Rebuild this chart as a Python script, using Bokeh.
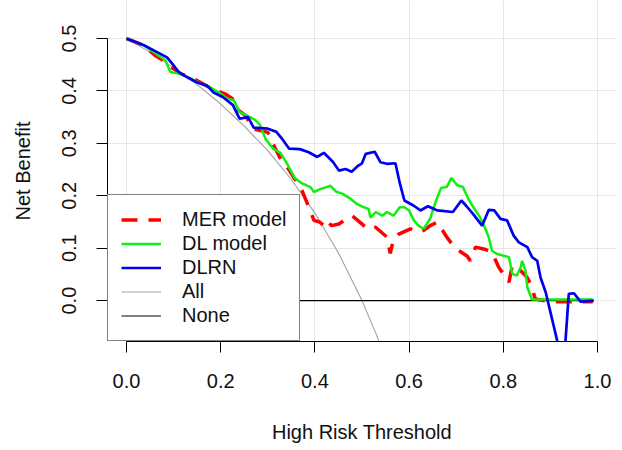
from bokeh.plotting import figure
from bokeh.models import Range1d, FixedTicker, Legend, LegendItem, PrintfTickFormatter
from bokeh.embed import file_html
from bokeh.resources import INLINE

# ---------------- data ----------------
x_ticks = [0.0, 0.2, 0.4, 0.6, 0.8, 1.0]
y_ticks = [0.0, 0.1, 0.2, 0.3, 0.4, 0.5]

mer_t = [0.000, 0.037, 0.060, 0.080, 0.095, 0.115, 0.143, 0.165, 0.182, 0.210,
         0.225, 0.238, 0.253, 0.267, 0.300, 0.316, 0.331, 0.345, 0.355, 0.370,
         0.384, 0.398, 0.410, 0.419, 0.426, 0.435, 0.451, 0.465, 0.479, 0.504,
         0.515, 0.529, 0.553, 0.560, 0.567, 0.578, 0.603, 0.620, 0.631, 0.645,
         0.660, 0.680, 0.699, 0.723, 0.730, 0.741, 0.760, 0.776, 0.790, 0.812,
         0.819, 0.837, 0.850, 0.858, 0.868, 0.900, 0.990]
mer_nb = [0.500, 0.487, 0.468, 0.457, 0.445, 0.433, 0.423, 0.412, 0.404, 0.394,
          0.385, 0.363, 0.353, 0.328, 0.321, 0.290, 0.264, 0.250, 0.235, 0.216,
          0.185, 0.153, 0.150, 0.143, 0.153, 0.143, 0.146, 0.155, 0.162, 0.143,
          0.135, 0.140, 0.121, 0.090, 0.118, 0.127, 0.137, 0.130, 0.134, 0.143,
          0.150, 0.121, 0.099, 0.085, 0.076, 0.102, 0.098, 0.092, 0.064, 0.035,
          0.067, 0.057, 0.045, 0.032, 0.003, -0.002, -0.002]

dl_t = [0.000, 0.037, 0.058, 0.083, 0.093, 0.111, 0.132, 0.157, 0.178, 0.196,
        0.214, 0.228, 0.240, 0.256, 0.274, 0.283, 0.295, 0.311, 0.327, 0.341,
        0.357, 0.372, 0.391, 0.398, 0.412, 0.423, 0.433, 0.445, 0.458, 0.476,
        0.490, 0.504, 0.514, 0.518, 0.529, 0.543, 0.553, 0.567, 0.580, 0.590,
        0.600, 0.610, 0.620, 0.631, 0.645, 0.656, 0.668, 0.680, 0.690, 0.702,
        0.714, 0.727, 0.741, 0.750, 0.762, 0.769, 0.776, 0.787, 0.812, 0.819,
        0.829, 0.837, 0.840, 0.847, 0.851, 0.861, 0.990]
dl_nb = [0.500, 0.487, 0.474, 0.458, 0.436, 0.433, 0.426, 0.414, 0.407, 0.397,
         0.385, 0.382, 0.360, 0.353, 0.344, 0.336, 0.309, 0.290, 0.282, 0.261,
         0.234, 0.224, 0.216, 0.207, 0.213, 0.216, 0.219, 0.208, 0.204, 0.194,
         0.184, 0.178, 0.175, 0.158, 0.169, 0.162, 0.169, 0.162, 0.178, 0.178,
         0.172, 0.153, 0.143, 0.137, 0.157, 0.188, 0.215, 0.217, 0.234, 0.220,
         0.217, 0.192, 0.172, 0.160, 0.137, 0.121, 0.095, 0.089, 0.083, 0.051,
         0.048, 0.064, 0.076, 0.057, 0.025, 0.002, 0.002]

dlrn_t = [0.000, 0.037, 0.065, 0.086, 0.097, 0.111, 0.129, 0.150, 0.171, 0.185,
          0.205, 0.226, 0.240, 0.258, 0.270, 0.300, 0.318, 0.331, 0.345, 0.368,
          0.387, 0.405, 0.419, 0.438, 0.451, 0.465, 0.478, 0.490, 0.500, 0.508,
          0.527, 0.539, 0.553, 0.571, 0.580, 0.590, 0.610, 0.624, 0.640, 0.660,
          0.693, 0.711, 0.722, 0.736, 0.755, 0.769, 0.781, 0.794, 0.808, 0.822,
          0.833, 0.851, 0.861, 0.872, 0.879, 0.890, 0.928, 0.939, 0.950, 0.964,
          0.992]
dlrn_nb = [0.500, 0.487, 0.474, 0.464, 0.452, 0.436, 0.426, 0.416, 0.410, 0.397,
           0.388, 0.373, 0.347, 0.350, 0.330, 0.328, 0.322, 0.308, 0.290, 0.289,
           0.283, 0.274, 0.282, 0.265, 0.248, 0.251, 0.246, 0.256, 0.262, 0.280,
           0.284, 0.264, 0.261, 0.262, 0.225, 0.191, 0.181, 0.172, 0.180, 0.172,
           0.169, 0.191, 0.180, 0.165, 0.143, 0.173, 0.172, 0.156, 0.153, 0.124,
           0.111, 0.102, 0.083, 0.076, 0.044, 0.016, -0.128, 0.013, 0.014, -0.002,
           0.000]

all_t = [0.00, 0.05, 0.10, 0.15, 0.20, 0.25, 0.30, 0.35, 0.40, 0.45, 0.50, 0.53, 0.55]
all_nb = [0.500, 0.474, 0.444, 0.412, 0.375, 0.333, 0.286, 0.231, 0.167, 0.091, 0.000, -0.064, -0.111]

none_t = [0.00, 0.99]
none_nb = [0.0, 0.0]

# ---------------- figure ----------------
FONT = "Liberation Sans"

p = figure(frame_width=509, frame_height=341,
           min_border_left=107, min_border_right=0, min_border_top=0, min_border_bottom=105,
           x_range=Range1d(-0.0403, 1.0403), y_range=Range1d(-0.078, 0.5725),
           output_backend="svg", toolbar_location=None)
p.outline_line_color = None
p.background_fill_color = "white"

r_all = p.line(all_t, all_nb, line_color="#A0A0A0", line_width=1.1)
r_none = p.line(none_t, none_nb, line_color="black", line_width=1.2)
r_mer = p.line(mer_t, mer_nb, line_color="#FF0000", line_width=3.5, line_dash="16 11")
r_dl = p.line(dl_t, dl_nb, line_color="#11EE11", line_width=2.5)
r_dlrn = p.line(dlrn_t, dlrn_nb, line_color="#0000EE", line_width=2.7)

# axes
for ax, ticks, b in ((p.xaxis[0], x_ticks, (0, 1)), (p.yaxis[0], y_ticks, (0, 0.5))):
    ax.ticker = FixedTicker(ticks=ticks)
    ax.formatter = PrintfTickFormatter(format="%.1f")
    ax.bounds = b
    ax.major_tick_out = 11
    ax.major_tick_in = 0
    ax.minor_tick_line_color = None
    ax.axis_line_color = "black"
    ax.major_tick_line_color = "black"
    ax.major_label_text_font = FONT
    ax.major_label_text_font_size = "20px"
    ax.major_label_text_color = "#111111"
    ax.axis_label_text_font = FONT
    ax.axis_label_text_font_size = "20px"
    ax.axis_label_text_font_style = "normal"
    ax.axis_label_text_color = "#111111"

p.xaxis.axis_label = "High Risk Threshold"
p.yaxis.axis_label = "Net Benefit"
p.yaxis.major_label_orientation = "vertical"
p.xaxis.major_label_standoff = 21
p.xaxis.axis_label_standoff = 30
p.yaxis.major_label_standoff = 20
p.yaxis.axis_label_standoff = 26

p.xgrid.ticker = FixedTicker(ticks=x_ticks)
p.ygrid.ticker = FixedTicker(ticks=y_ticks)
p.grid.grid_line_color = "#E6E6E6"
p.grid.grid_line_width = 1

legend = Legend(items=[
    LegendItem(label="MER model", renderers=[r_mer]),
    LegendItem(label="DL model", renderers=[r_dl]),
    LegendItem(label="DLRN", renderers=[r_dlrn]),
    LegendItem(label="All", renderers=[r_all]),
    LegendItem(label="None", renderers=[r_none]),
], location="bottom_left")
legend.margin = 0
legend.padding = 13
legend.spacing = 1
legend.glyph_width = 40
legend.glyph_height = 23
legend.label_height = 23
legend.label_standoff = 21
legend.label_text_font = FONT
legend.label_text_font_size = "20px"
legend.label_text_color = "#111111"
legend.border_line_color = "black"
legend.border_line_width = 1
legend.background_fill_color = "white"
legend.background_fill_alpha = 1.0
p.add_layout(legend)

open("out.html", "w").write(file_html(p, INLINE))
